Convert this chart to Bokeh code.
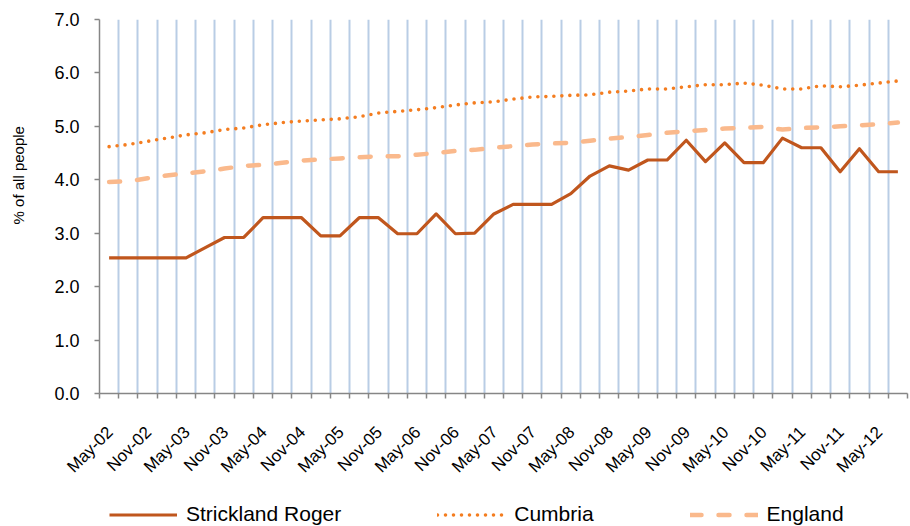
from math import pi
from bokeh.plotting import figure
from bokeh.layouts import column
from bokeh.models import Range1d, FixedTicker, NumeralTickFormatter, Legend, LegendItem
from bokeh.embed import file_html
from bokeh.resources import INLINE

FONT = "Liberation Sans"

# x-axis labels (every second quarter, May / Nov)
tick_labels = ["May-02", "Nov-02", "May-03", "Nov-03", "May-04", "Nov-04", "May-05",
               "Nov-05", "May-06", "Nov-06", "May-07", "Nov-07", "May-08", "Nov-08",
               "May-09", "Nov-09", "May-10", "Nov-10", "May-11", "Nov-11", "May-12"]

series_names = ["Strickland Roger", "Cumbria", "England"]

strickland = [2.54, 2.54, 2.54, 2.54, 2.54, 2.73, 2.92, 2.92, 3.29, 3.29, 3.29,
              2.95, 2.95, 3.29, 3.29, 2.99, 2.99, 3.36, 2.99, 3.00, 3.36, 3.54,
              3.54, 3.54, 3.74, 4.07, 4.26, 4.18, 4.37, 4.37, 4.74, 4.34, 4.69,
              4.32, 4.32, 4.78, 4.60, 4.60, 4.15, 4.58, 4.15, 4.15]

cumbria = [4.62, 4.66, 4.72, 4.78, 4.84, 4.88, 4.94, 4.97, 5.03, 5.07, 5.10,
           5.12, 5.14, 5.18, 5.25, 5.28, 5.31, 5.35, 5.40, 5.44, 5.46, 5.51,
           5.55, 5.56, 5.58, 5.59, 5.64, 5.66, 5.70, 5.70, 5.74, 5.78, 5.78,
           5.81, 5.77, 5.70, 5.70, 5.76, 5.74, 5.77, 5.81, 5.85]

england = [3.96, 3.97, 4.03, 4.08, 4.12, 4.16, 4.21, 4.26, 4.28, 4.32, 4.36,
           4.38, 4.40, 4.42, 4.44, 4.44, 4.47, 4.50, 4.54, 4.56, 4.60, 4.63,
           4.66, 4.68, 4.69, 4.73, 4.77, 4.80, 4.84, 4.88, 4.91, 4.93, 4.96,
           4.97, 4.99, 4.94, 4.97, 4.98, 5.00, 5.02, 5.04, 5.07]

series = [strickland, cumbria, england]

styles = [
    dict(line_color="#C0561D", line_width=3.2, line_join="round"),
    dict(line_color="#F47D20", line_width=3.6, line_dash="0 8", line_cap="round"),
    dict(line_color="#FAB98C", line_width=4.5, line_dash="11 17", line_cap="round"),
]

n = len(strickland)
# each quarter is a category slot; points sit in the middle of their slot
x = [i + 0.5 for i in range(n)]

p = figure(width=910, height=490, output_backend="svg", toolbar_location=None,
           x_range=Range1d(0, n), y_range=Range1d(0, 7),
           min_border_left=99, min_border_right=3, min_border_top=19,
           min_border_bottom=97)
p.outline_line_color = None
p.background_fill_color = "white"

# x axis
label_pos = [2 * k + 0.55 for k in range(len(tick_labels))]
p.xaxis.ticker = FixedTicker(ticks=label_pos, minor_ticks=list(range(n + 1)))
p.xaxis.major_label_overrides = {pos: lab for pos, lab in zip(label_pos, tick_labels)}
p.xaxis.major_tick_line_color = None
p.xaxis.minor_tick_line_color = "#868686"
p.xaxis.minor_tick_line_width = 1.5
p.xaxis.minor_tick_out = 5
p.xaxis.minor_tick_in = 0
p.xaxis.axis_line_color = "#868686"
p.xaxis.axis_line_width = 1.5
p.xaxis.major_label_orientation = pi / 4
p.xaxis.major_label_text_font = FONT
p.xaxis.major_label_text_font_size = "17px"
p.xaxis.major_label_text_color = "black"
p.xaxis.major_label_standoff = 30

p.xgrid.ticker = FixedTicker(ticks=list(range(n + 1)))
p.xgrid.grid_line_color = "#B9CDE5"
p.xgrid.grid_line_width = 2

# y axis
p.yaxis.ticker = FixedTicker(ticks=list(range(8)))
p.yaxis.formatter = NumeralTickFormatter(format="0.0")
p.yaxis.axis_line_color = "#868686"
p.yaxis.axis_line_width = 1.5
p.yaxis.major_tick_line_color = "#868686"
p.yaxis.major_tick_line_width = 1.5
p.yaxis.major_tick_out = 5
p.yaxis.major_tick_in = 0
p.yaxis.minor_tick_line_color = None
p.yaxis.major_label_text_font = FONT
p.yaxis.major_label_text_font_size = "18px"
p.yaxis.major_label_text_color = "black"
p.yaxis.major_label_standoff = 15
p.yaxis.axis_label = "\u00a0" * 15 + "% of all people"
p.yaxis.axis_label_text_font = FONT
p.yaxis.axis_label_text_font_size = "15px"
p.yaxis.axis_label_text_font_style = "normal"
p.yaxis.axis_label_text_color = "black"
p.yaxis.axis_label_standoff = 24
p.ygrid.visible = False

# series
for vals, st in zip(series, styles):
    p.line(x, vals, **st)

# legend strip below the chart (its lines lie outside this strip's y range)
q = figure(width=910, height=36, output_backend="svg", toolbar_location=None,
           x_range=Range1d(0, n), y_range=Range1d(-2, -1),
           min_border=0, min_border_left=0, min_border_right=0,
           min_border_top=0, min_border_bottom=0)
q.axis.visible = False
q.grid.visible = False
q.outline_line_color = None
q.title.visible = False
items = []
for name, vals, st in zip(series_names, series, styles):
    r = q.line(x, vals, **st)
    items.append(LegendItem(label=name, renderers=[r]))
lg = Legend(items=items, location=(10, 0), orientation="horizontal",
            glyph_width=68, glyph_height=21, label_height=21, label_width=0,
            label_standoff=9, padding=0, margin=0, spacing=96,
            border_line_color=None, background_fill_alpha=0,
            label_text_font=FONT, label_text_font_size="21px",
            label_text_color="black")
q.add_layout(lg)

open("out.html", "w").write(file_html(column(p, q, spacing=0), INLINE))
